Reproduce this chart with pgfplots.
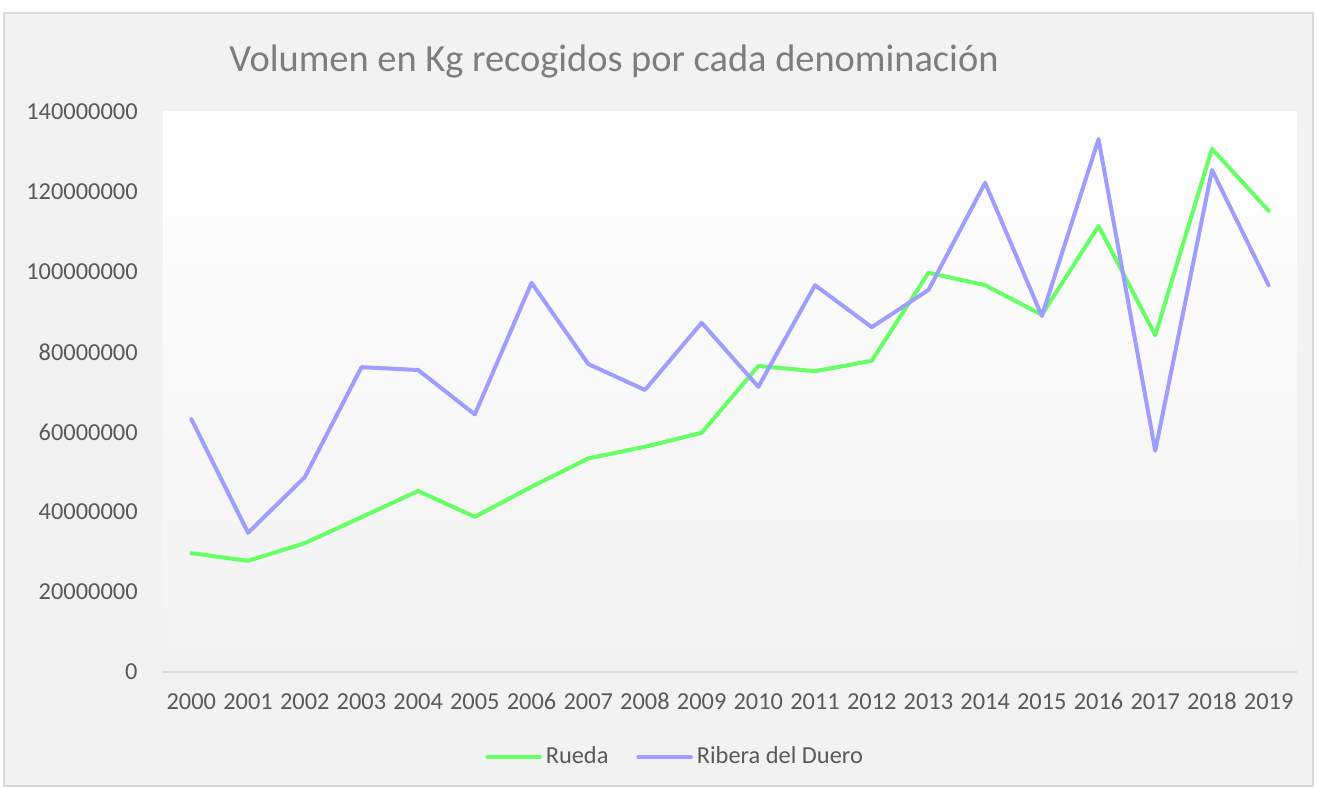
\documentclass[border=0pt]{standalone}
\usepackage{pgfplots}
\pgfplotsset{compat=1.18}
\usepackage{fontspec}
\setmainfont{Carlito}
\definecolor{rueda}{RGB}{102,255,102}
\definecolor{ribera}{RGB}{158,158,255}
\definecolor{bggray}{RGB}{242,242,242}
\definecolor{framegray}{RGB}{217,217,217}
\definecolor{txtgray}{RGB}{89,89,89}
\definecolor{titlegray}{RGB}{125,125,125}
\begin{document}
\begin{tikzpicture}
\fill[white] (-81.5pt,-58pt) rectangle (577pt,336pt);
\draw[fill=bggray, draw=framegray, line width=0.6pt] (-79.5pt,-57pt) rectangle (575pt,329.5pt);
\node[text=titlegray, font=\fontsize{19.2}{23}\selectfont] at (225.5pt,305.5pt) {Volumen en Kg recogidos por cada denominación};
\begin{axis}[
  at={(0,0)}, anchor=south west,
  scale only axis, width=567pt, height=280pt,
  xmin=1999.5, xmax=2019.5, ymin=0, ymax=140000000,
  axis x line*=bottom, axis y line*=left,
  y axis line style={draw=none},
  x axis line style={draw=framegray, line width=0.8pt},
  major tick length=0pt,
  xtick={2000,2001,...,2019},
  xticklabels={2000,2001,2002,2003,2004,2005,2006,2007,2008,2009,2010,2011,2012,2013,2014,2015,2016,2017,2018,2019},
  ytick={0,20000000,40000000,60000000,80000000,100000000,120000000,140000000},
  yticklabels={0,20000000,40000000,60000000,80000000,100000000,120000000,140000000},
  scaled y ticks=false, scaled x ticks=false,
  tick label style={font=\fontsize{12.2}{14}\selectfont, text=txtgray},
  yticklabel style={anchor=east, inner sep=0pt, xshift=-12.5pt},
  xticklabel style={anchor=center, inner sep=0pt, yshift=-14.8pt},
  axis background/.style={shade, top color=white, bottom color=bggray},
  legend style={at={(0.4525,-0.1518)}, anchor=center, draw=none, fill=none,
    font=\fontsize{12.2}{14}\selectfont, text=txtgray,
    /tikz/every even column/.append style={column sep=12pt}},
  legend columns=2,
  legend image code/.code={\draw[#1, line width=2.2pt, line cap=round] (0pt,0pt) -- (26pt,0pt);},
  clip=false,
]
\addplot[rueda, line width=2pt, line join=round, line cap=round] coordinates {
(2000,29700000) (2001,27800000) (2002,32200000) (2003,38700000) (2004,45250000)
(2005,38800000) (2006,46300000) (2007,53400000) (2008,56300000) (2009,59800000)
(2010,76500000) (2011,75200000) (2012,77800000) (2013,99800000) (2014,96700000)
(2015,89300000) (2016,111500000) (2017,84200000) (2018,130800000) (2019,115300000)};
\addlegendentry{Rueda}
\addplot[ribera, line width=2pt, line join=round, line cap=round] coordinates {
(2000,63200000) (2001,34800000) (2002,48700000) (2003,76200000) (2004,75500000)
(2005,64400000) (2006,97300000) (2007,77000000) (2008,70500000) (2009,87300000)
(2010,71300000) (2011,96700000) (2012,86200000) (2013,95500000) (2014,122300000)
(2015,89000000) (2016,133200000) (2017,55300000) (2018,125500000) (2019,96700000)};
\addlegendentry{Ribera del Duero}
\end{axis}
\end{tikzpicture}
\end{document}
